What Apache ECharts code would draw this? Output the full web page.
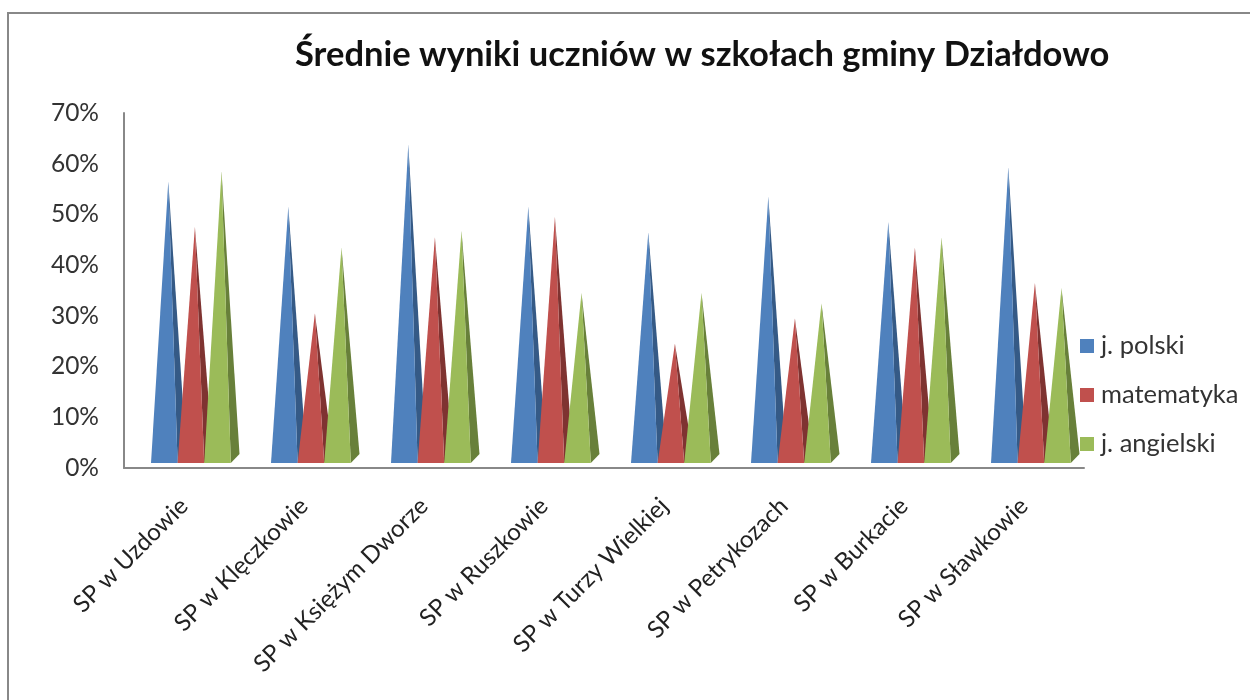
<!DOCTYPE html>
<html><head><meta charset="utf-8">
<style>html,body{margin:0;padding:0;background:#fff}#c{width:1250px;height:700px}</style>
<script src="https://cdn.jsdelivr.net/npm/echarts@6/dist/echarts.min.js"></script>
</head><body><div id="c"></div>
<script>
const categories = ['SP w Uzdowie','SP w Klęczkowie','SP w Księżym Dworze','SP w Ruszkowie','SP w Turzy Wielkiej','SP w Petrykozach','SP w Burkacie','SP w Sławkowie'];
const polski = [56.5,51.5,63.8,51.5,46.5,53.5,48.5,59.3];
const matematyka = [47.5,30.5,45.5,49.5,24.5,29.5,43.5,36.5];
const angielski = [58.5,43.5,46.8,34.5,34.5,32.5,45.5,35.5];
const names = ['j. polski','matematyka','j. angielski'];
const FONT = 'Lato, "Open Sans", sans-serif';

function spike(seriesIndex, front, side){
  return function(params, api){
    const base = api.coord([api.value(0), 0]);
    const top = api.coord([api.value(0), api.value(1)]);
    const w = 26.6;
    const left = base[0] - 33 + seriesIndex * w;
    const yb = base[1] - 5;
    const apex = [left + w/2 + 4, top[1]];
    return {type:'group', children:[
      {type:'polygon', shape:{points:[apex,[left+w,yb],[left+w+8.7,yb-9]]}, style:{fill:side}},
      {type:'polygon', shape:{points:[apex,[left,yb],[left+w,yb]]}, style:{fill:front}}
    ]};
  };
}
const colors = ['#4f81bd','#c0504d','#9bbb59'];
const sides = ['#355a86','#7f3331','#68803a'];
const datas = [polski, matematyka, angielski];
const chart = echarts.init(document.getElementById('c'), null, {renderer:'canvas'});
chart.setOption({
  animation:false,
  backgroundColor:'#fff',
  title:{text:'Średnie wyniki uczniów w szkołach gminy Działdowo', left:290, top:32,
    textStyle:{fontFamily:FONT,fontSize:34.5,fontWeight:'bold',color:'#111'}},
  legend:{orient:'vertical', left:1075, top:328, itemWidth:14, itemHeight:14, itemGap:23, icon:'rect',
    data:names, textStyle:{fontFamily:FONT,fontSize:25.5,color:'#333',padding:[0,0,0,2]}},
  grid:{left:124,top:113,width:960,height:355,containLabel:false},
  xAxis:{type:'category',data:categories,
    axisLine:{lineStyle:{color:'#888',width:2}},axisTick:{show:false},
    axisLabel:{interval:0,rotate:45,margin:34,fontFamily:FONT,fontSize:24,color:'#222'}},
  yAxis:{type:'value',min:0,max:70,interval:10,
    axisLine:{show:true,lineStyle:{color:'#888',width:2}},axisTick:{show:false},splitLine:{show:false},
    axisLabel:{formatter:'{value}%',margin:25,fontFamily:FONT,fontSize:24.5,color:'#333'}},
  graphic:[{type:'rect',silent:true,shape:{x:8,y:13,width:1260,height:720},style:{fill:'none',stroke:'#888',lineWidth:2}}],
  series:names.map((n,i)=>({
    name:n,type:'custom',
    itemStyle:{color:colors[i]},
    encode:{x:0,y:1},
    data:categories.map((c,k)=>[k,datas[i][k]]),
    renderItem:spike(i,colors[i],sides[i])
  }))
});
</script></body></html>
